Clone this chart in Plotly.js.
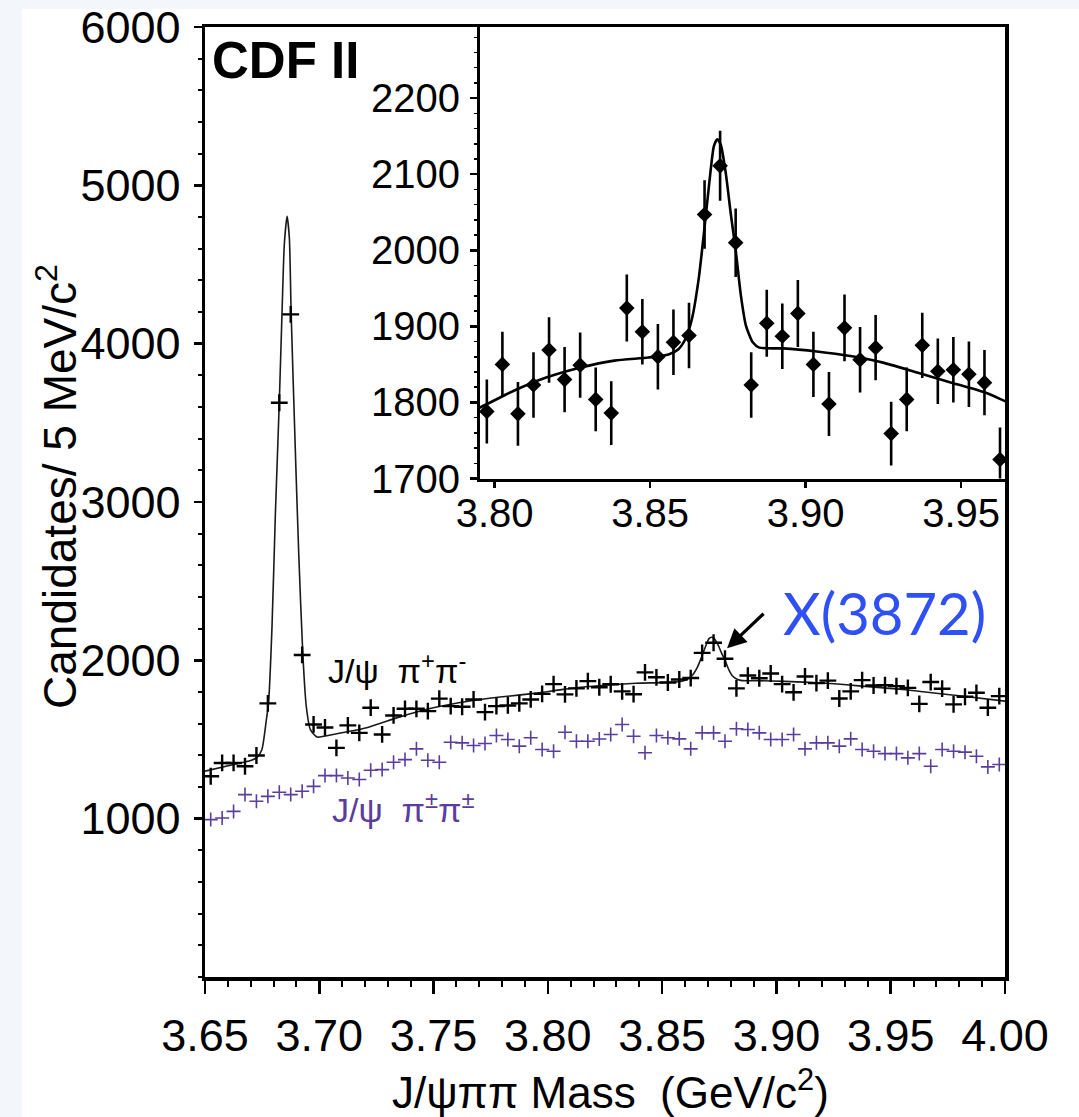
<!DOCTYPE html>
<html><head><meta charset="utf-8">
<script src="https://cdn.plot.ly/plotly-3.0.1.min.js"></script>
<style>html,body{margin:0;padding:0;background:#fff;} #chart{width:1079px;height:1117px;}</style>
</head><body><div id="chart"></div>
<script>
// Bin centres (5 MeV bins), GeV/c^2
const binMass = [
 3.6525,3.6575,3.6625,3.6675,3.6725,3.6775,3.6825,3.6875,3.6925,3.6975,
 3.7025,3.7075,3.7125,3.7175,3.7225,3.7275,3.7325,3.7375,3.7425,3.7475,
 3.7525,3.7575,3.7625,3.7675,3.7725,3.7775,3.7825,3.7875,3.7925,3.7975,
 3.8025,3.8075,3.8125,3.8175,3.8225,3.8275,3.8325,3.8375,3.8425,3.8475,
 3.8525,3.8575,3.8625,3.8675,3.8725,3.8775,3.8825,3.8875,3.8925,3.8975,
 3.9025,3.9075,3.9125,3.9175,3.9225,3.9275,3.9325,3.9375,3.9425,3.9475,
 3.9525,3.9575,3.9625,3.9675,3.9725,3.9775,3.9825,3.9875,3.9925,3.9975];
// J/psi pi+ pi- candidates
const countsOpposite = [
 1268,1352,1352,1331,1399,1728,3627,4185,2034,1595,
 1576,1447,1589,1542,1701,1532,1652,1694,1694,1679,
 1758,1711,1707,1753,1673,1711,1715,1728,1753,1788,
 1850,1785,1823,1869,1830,1849,1804,1786,1924,1893,
 1860,1879,1888,2047,2111,2010,1823,1904,1887,1917,
 1850,1798,1898,1856,1872,1759,1804,1875,1841,1843,
 1837,1826,1725,1863,1821,1722,1770,1795,1701,1774];
// J/psi pi± pi± candidates
const countsSame = [
 994,1004,1046,1152,1110,1141,1167,1152,1173,1204,
 1272,1272,1257,1247,1306,1310,1356,1373,1441,1369,
 1356,1483,1479,1462,1475,1525,1500,1458,1511,1437,
 1426,1546,1489,1489,1503,1532,1595,1521,1416,1525,
 1511,1504,1441,1542,1542,1489,1568,1563,1542,1500,
 1500,1532,1441,1479,1479,1458,1504,1437,1426,1411,
 1411,1384,1411,1331,1437,1426,1420,1394,1327,1342];
// inset: bins 3.7975 .. 3.9625 with their error bars
const insetFirst = 29, insetLast = 62;
const insetErrors = [42,43,42,43,43,43,43,42,42,44,43,43,43,43,45,46,45,43,44,43,44,43,42,44,43,43,42,42,43,43,43,43,43,42];
// fit curve
const fitMass = [3.650,3.6625,3.670,3.6727,3.6749,3.6768,3.6778,3.6793,3.6808,3.6825,3.6837,3.6847,3.6859,3.6869,3.6877,3.6895,3.6910,3.6928,3.6943,3.6961,3.6990,3.7061,3.7207,3.7353,3.7499,3.7645,3.7791,3.7951,3.8060,3.8168,3.8277,3.8385,3.8494,3.8559,3.8591,3.8613,3.8634,3.8656,3.8672,3.8689,3.8705,3.8716,3.8727,3.8743,3.8759,3.8776,3.8792,3.8808,3.8830,3.8851,3.8927,3.9036,3.9144,3.9252,3.9361,3.9469,3.9577,3.9651,3.9800,4.0000];
const fitCounts = [1300,1342,1368,1385,1437,1620,1730,2205,2930,3629,4196,4626,4804,4670,4187,3335,2678,2038,1710,1563,1516,1532,1574,1643,1700,1740,1768,1793,1815,1833,1846,1855,1859,1863,1870,1883,1909,1962,2019,2084,2137,2146,2139,2102,2049,1997,1940,1901,1879,1872,1871,1867,1861,1852,1839,1826,1813,1800,1776,1742];
const mainXTicks = [3.65,3.70,3.75,3.80,3.85,3.90,3.95,4.00];
const mainYTicks = [1000,2000,3000,4000,5000,6000];
const insetXTicks = [3.80,3.85,3.90,3.95];
const insetYTicks = [1700,1800,1900,2000,2100,2200];

const insetMass = binMass.slice(insetFirst, insetLast + 1);
const insetCounts = countsOpposite.slice(insetFirst, insetLast + 1);

const FONT = 'Liberation Sans, Arial, Helvetica, sans-serif';
const PURPLE = '#5a3d9c';

const traces = [
 {x: fitMass, y: fitCounts, type:'scatter', mode:'lines', xaxis:'x', yaxis:'y',
  line:{color:'#1a1a1a', width:1.6, shape:'spline', smoothing:0.6}, hoverinfo:'skip'},
 {x: binMass, y: countsSame, type:'scatter', mode:'markers', xaxis:'x', yaxis:'y',
  marker:{symbol:'cross-thin', size:10, line:{color:PURPLE, width:1.6}}},
 {x: binMass, y: countsOpposite, type:'scatter', mode:'markers', xaxis:'x', yaxis:'y',
  marker:{symbol:'cross-thin', size:12, line:{color:'#000', width:2.4}}},
 {x: fitMass, y: fitCounts, type:'scatter', mode:'lines', xaxis:'x2', yaxis:'y2',
  line:{color:'#000', width:2.6, shape:'spline', smoothing:0.6}, hoverinfo:'skip'},
 {x: insetMass, y: insetCounts, type:'scatter', mode:'markers', xaxis:'x2', yaxis:'y2',
  marker:{symbol:'diamond', size:12, color:'#000'},
  error_y:{type:'data', array: insetErrors, visible:true, color:'#000', thickness:2.6, width:0}}
];

const px2paperX = p => (p - 205) / 800;
const px2paperY = p => (977 - p) / 950;

const layout = {
 width:1079, height:1117, showlegend:false,
 paper_bgcolor:'#f3f7fb', plot_bgcolor:'rgba(0,0,0,0)',
 margin:{l:205, r:74, t:27, b:140, pad:0},
 font:{family:FONT, color:'#000'},
 shapes:[
  {type:'rect', xref:'paper', yref:'paper', layer:'below',
   x0:px2paperX(22), x1:px2paperX(1079), y0:px2paperY(1117), y1:px2paperY(9),
   fillcolor:'#ffffff', line:{width:0}}
 ],
 xaxis:{domain:[0,1], range:[3.65,4.00], tickvals:mainXTicks, tickformat:'.2f',
  showline:true, mirror:true, linecolor:'#000', linewidth:3.5,
  ticks:'outside', ticklen:13, tickwidth:2.5, tickcolor:'#000',
  minor:{dtick:0.01, ticks:'outside', ticklen:6, tickwidth:2, tickcolor:'#000', showgrid:false},
  showgrid:false, zeroline:false, tickfont:{size:45}, ticklabelstandoff:3},
 yaxis:{domain:[0,1], range:[0,6000], tickvals:mainYTicks,
  showline:true, mirror:true, linecolor:'#000', linewidth:3.5,
  ticks:'outside', ticklen:8, tickwidth:2.5, tickcolor:'#000',
  minor:{dtick:200, ticks:'outside', ticklen:4, tickwidth:2, tickcolor:'#000', showgrid:false},
  showgrid:false, zeroline:false, tickfont:{size:45}, ticklabelstandoff:4},
 xaxis2:{domain:[px2paperX(480),1], range:[3.7953,3.9641], anchor:'y2', tickvals:insetXTicks, tickformat:'.2f',
  showline:true, mirror:true, linecolor:'#000', linewidth:3,
  ticks:'outside', ticklen:6, tickwidth:2.5, tickcolor:'#000',
  showgrid:false, zeroline:false, tickfont:{size:40}, ticklabelstandoff:-9},
 yaxis2:{domain:[px2paperY(478.5),1], range:[1700,2293.5], anchor:'x2', tickvals:insetYTicks,
  showline:true, mirror:true, linecolor:'#000', linewidth:3,
  ticks:'outside', ticklen:7, tickwidth:2.5, tickcolor:'#000',
  minor:{dtick:20, ticks:'outside', ticklen:3, tickwidth:1.5, tickcolor:'#000', showgrid:false},
  showgrid:false, zeroline:false, tickfont:{size:40}, ticklabelstandoff:2},
 annotations:[
  {xref:'paper', yref:'paper', x:px2paperX(57), y:px2paperY(487), xanchor:'center', yanchor:'middle',
   textangle:-90, showarrow:false,
   text:'Candidates/ 5 MeV/c<sup>2</sup>', font:{family:FONT, size:46, color:'#000'}},
  {xref:'paper', yref:'paper', x:px2paperX(610), y:px2paperY(1118), xanchor:'center', yanchor:'bottom',
   showarrow:false, borderpad:0,
   text:'J/ψππ Mass \u00a0(GeV/c<sup>2</sup>)', font:{family:FONT, size:44, color:'#000'}},
  {xref:'x', yref:'y', x:3.6523, y:5790, xanchor:'left', yanchor:'middle', showarrow:false,
   text:'CDF II', font:{family:FONT, size:51, weight:'bold', color:'#000'}},
  {xref:'x', yref:'y', x:3.9471, y:2300, xanchor:'center', yanchor:'middle', showarrow:false,
   text:'X(3872)', font:{family:'Lato, Open Sans, sans-serif', size:58, color:'#2f50f5'}},
  {xref:'x', yref:'y', x:3.8784, y:2076, ax:38, ay:-36, text:'', showarrow:true,
   arrowhead:2, arrowsize:1.2, arrowwidth:3.2, arrowcolor:'#000', standoff:0},
  {xref:'x', yref:'y', x:3.7340, y:1950, xanchor:'center', yanchor:'middle', showarrow:false,
   text:'J/ψ \u00a0π<sup>+</sup>π<sup>-</sup>', font:{family:FONT, size:34, color:'#000'}},
  {xref:'x', yref:'y', x:3.7370, y:1070, xanchor:'center', yanchor:'middle', showarrow:false,
   text:'J/ψ \u00a0π<sup>±</sup>π<sup>±</sup>', font:{family:FONT, size:34, color:PURPLE}}
 ]
};

Plotly.newPlot('chart', traces, layout, {displayModeBar:false, staticPlot:true});
</script>
</body></html>
